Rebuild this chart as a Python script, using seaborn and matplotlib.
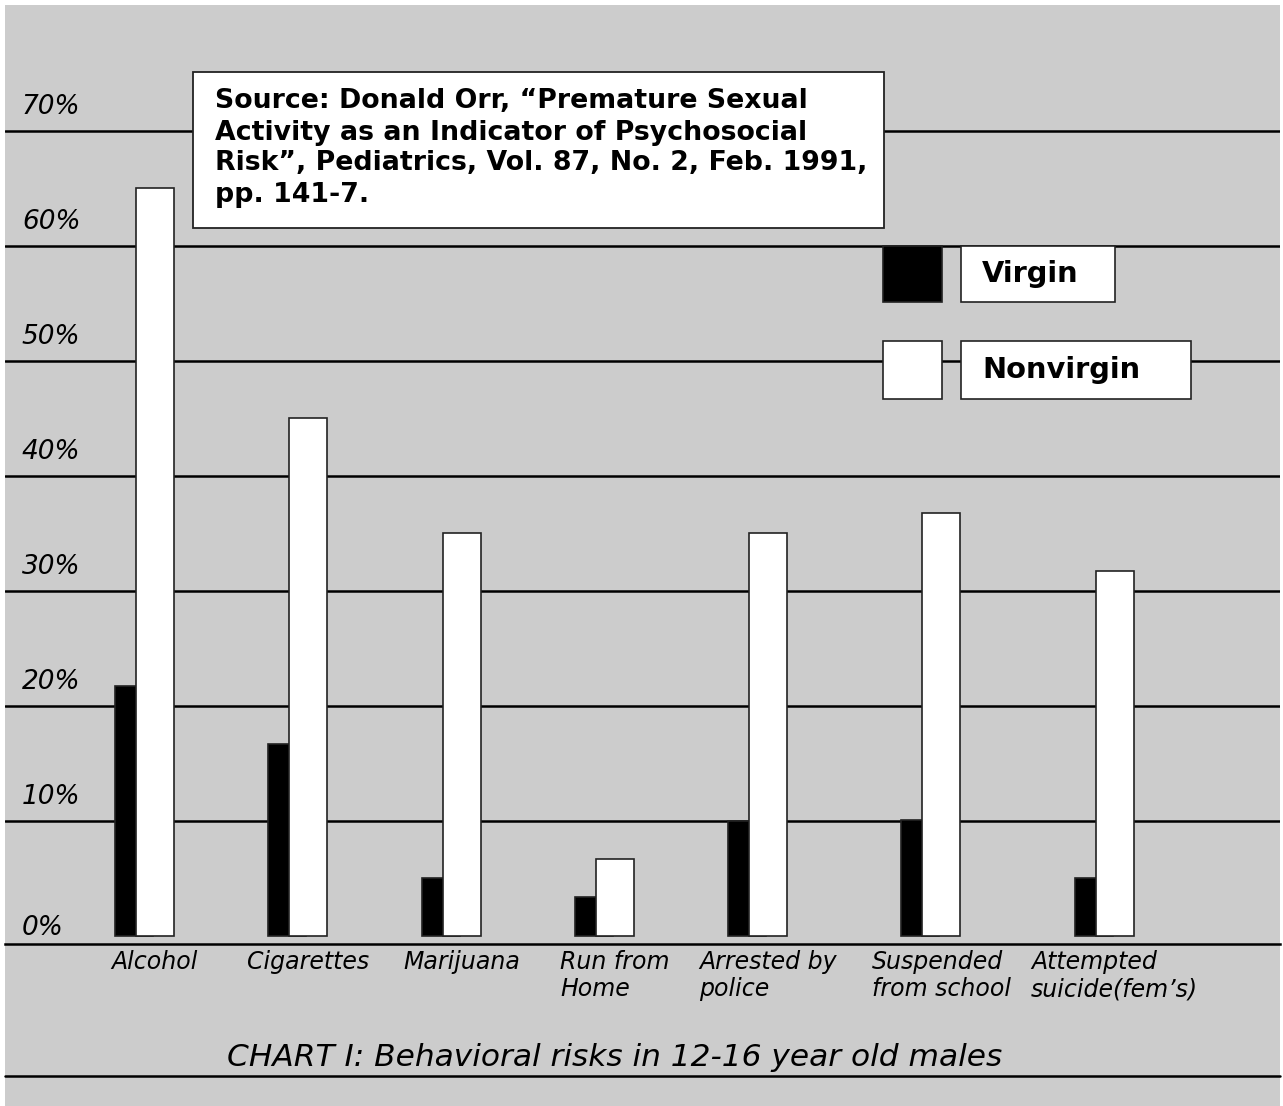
import numpy as np
import matplotlib
matplotlib.use("Agg")
import matplotlib.pyplot as plt
from matplotlib.patches import Rectangle
from matplotlib.lines import Line2D
from matplotlib.transforms import blended_transform_factory, offset_copy
import seaborn as sns

# data (percent)
categories = ["Alcohol", "Cigarettes", "Marijuana", "Run from\nHome",
              "Arrested by\npolice", "Suspended\nfrom school",
              "Attempted\nsuicide(fem\u2019s)"]
virgin = [21.7, 16.7, 5.0, 3.4, 10.0, 10.1, 5.0]
nonvirgin = [65.0, 45.0, 35.0, 6.7, 35.0, 36.8, 31.7]
grid_ticks = [10, 20, 30, 40, 50, 60, 70]
tick_labels = ["0%", "10%", "20%", "30%", "40%", "50%", "60%", "70%"]
source_text = ("Source: Donald Orr, \u201cPremature Sexual\n"
               "Activity as an Indicator of Psychosocial\n"
               "Risk\u201d, Pediatrics, Vol. 87, No. 2, Feb. 1991,\n"
               "pp. 141-7.")
title = "CHART I: Behavioral risks in 12-16 year old males"

# group positions along x (last two groups sit a bit further apart)
pos = np.array([0, 1, 2, 3, 4, 5.13, 6.26])

sns.set_style("white")
plt.rcParams["font.family"] = ["DejaVu Sans"]
plt.rcParams["text.color"] = "black"
plt.rcParams["xtick.color"] = "black"

W, H = 1283, 1106
fig = plt.figure(figsize=(W / 100, H / 100), dpi=100, facecolor="white")

def fx(px):
    return px / W

def fy(py):
    return 1 - py / H

# gray background panel
fig.add_artist(Rectangle((fx(5), fy(1106)), fx(1275), 1101 / H,
                         transform=fig.transFigure, facecolor="#cccccc",
                         edgecolor="none", zorder=-10))

# axes: bottom line at y=944px, top at ~5px
ymin, ymax = -0.7, 80.9
ax = fig.add_axes([fx(5), fy(944), fx(1275), 938.4 / H])
ax.patch.set_alpha(0)

bar_w = 0.248
sns.barplot(x=pos - 0.137, y=virgin, native_scale=True, orient="x",
            width=bar_w, color="black", edgecolor="#222222", linewidth=1.2,
            saturation=1, errorbar=None, ax=ax)
sns.barplot(x=pos.astype(float), y=nonvirgin, native_scale=True, orient="x",
            width=bar_w, color="white", edgecolor="#222222", linewidth=1.2,
            saturation=1, errorbar=None, ax=ax)

ax.set_xlim(-0.978, 7.339)
ax.set_ylim(ymin, ymax)
ax.set_yticks(grid_ticks)
ax.yaxis.grid(True, color="black", linewidth=1.8)
ax.set_axisbelow(True)
ax.tick_params(axis="y", length=0, labelleft=False)
ax.set_xticks(pos)
ax.set_xticklabels(categories, fontsize=17, style="italic",
                   multialignment="left", linespacing=1.2)
ax.tick_params(axis="x", length=0, pad=4)
for s in ["top", "left", "right"]:
    ax.spines[s].set_visible(False)
ax.spines["bottom"].set_color("black")
ax.spines["bottom"].set_linewidth(1.8)
ax.set_xlabel("")
ax.set_ylabel("")

# y labels sitting above their lines
base = blended_transform_factory(ax.transAxes, ax.transData)
for v, lab in zip([0] + grid_ticks, tick_labels):
    off = 1 if v == 0 else 12
    tr = offset_copy(base, fig=fig, y=off, units="points")
    ax.text(0.0133, v, lab, transform=tr, fontsize=19, style="italic",
            ha="left", va="baseline")

# source box
fig.add_artist(Rectangle((fx(193), fy(228)), fx(691), 156 / H,
                         transform=fig.transFigure, facecolor="white",
                         edgecolor="#222222", linewidth=1.3, zorder=2))
fig.text(fx(215), fy(148), source_text, fontsize=19.3, fontweight="bold",
         ha="left", va="center", linespacing=1.25, zorder=3)

# legend
fig.add_artist(Rectangle((fx(883), fy(302)), fx(59), 56 / H,
                         transform=fig.transFigure, facecolor="black",
                         edgecolor="#222222", linewidth=1.2, zorder=2))
fig.add_artist(Rectangle((fx(961), fy(302)), fx(154), 56 / H,
                         transform=fig.transFigure, facecolor="white",
                         edgecolor="#222222", linewidth=1.2, zorder=2))
fig.text(fx(982), fy(274), "Virgin", fontsize=20.8, fontweight="bold",
         ha="left", va="center", zorder=3)
fig.add_artist(Rectangle((fx(883), fy(399)), fx(59), 58 / H,
                         transform=fig.transFigure, facecolor="white",
                         edgecolor="#222222", linewidth=1.2, zorder=2))
fig.add_artist(Rectangle((fx(961), fy(399)), fx(230), 58 / H,
                         transform=fig.transFigure, facecolor="white",
                         edgecolor="#222222", linewidth=1.2, zorder=2))
fig.text(fx(982), fy(370), "Nonvirgin", fontsize=20.8, fontweight="bold",
         ha="left", va="center", zorder=3)

# title and bottom rule
fig.text(fx(615), fy(1057), title, fontsize=22.5, style="italic",
         ha="center", va="center")
fig.add_artist(Line2D([fx(5), fx(1280)], [fy(1076), fy(1076)],
                      transform=fig.transFigure, color="black", linewidth=1.8))

fig.savefig("out.png", dpi=100, facecolor="white")
